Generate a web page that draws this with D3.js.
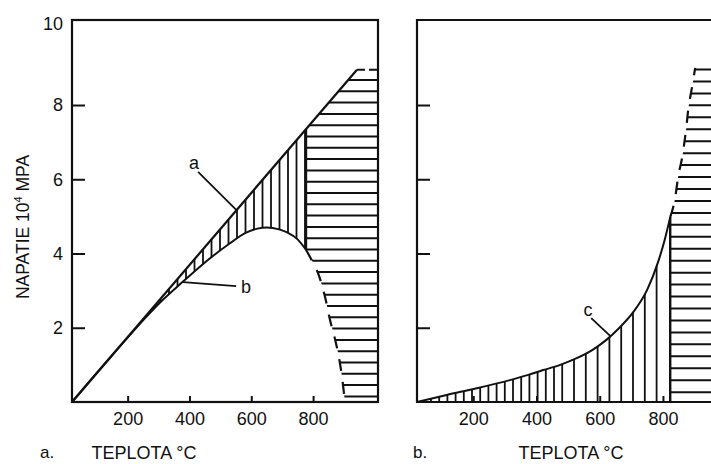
<!DOCTYPE html>
<html>
<head>
<meta charset="utf-8">
<script src="https://cdn.jsdelivr.net/npm/d3@7"></script>
<style>
  body { margin: 0; background: #fff; }
  text { font-family: "Liberation Sans", Arial, sans-serif; fill: #111; }
</style>
</head>
<body>
<svg id="chart" width="711" height="464"></svg>
<script>
// ticks
const tickTemps = [200, 400, 600, 800];
const tickStress = [2, 4, 6, 8, 10];

// panel a: line a (straight) and curve b, temperature in °C, stress in 10^4 MPa
const aTemp = [20, 942];
const aStress = [0, 8.95];
const bTemp = [20, 150, 250, 300, 380, 450, 530, 580, 620, 650, 690, 716, 750, 777, 800, 816, 839, 855, 871, 884, 894, 903];
const bStress = [0, 1.26, 2.2, 2.64, 3.25, 3.76, 4.27, 4.55, 4.67, 4.70, 4.65, 4.57, 4.38, 4.10, 3.75, 3.47, 2.82, 2.20, 1.69, 1.18, 0.65, 0];
const bSplit = 777;   // vertical boundary between the two hatches

// panel b: curve c
const cTemp = [22, 116, 211, 316, 374, 421, 475, 527, 580, 622, 660, 706, 750, 785, 805, 823, 839, 848, 861, 873, 880, 892, 902];
const cStress = [0, 0.19, 0.37, 0.59, 0.73, 0.86, 1.0, 1.18, 1.42, 1.68, 1.98, 2.42, 3.02, 3.78, 4.35, 4.98, 5.52, 6.06, 6.6, 7.33, 7.87, 8.48, 9.0];
const cSplit = 823;

// annotations: label position and leader line (from -> to), data units
const notesA = [
  { text: 'a', t: 415, s: 6.45, t1: 428, s1: 6.2, t2: 553, s2: 5.16 },
  { text: 'b', t: 583, s: 3.10, t1: 551, s1: 3.12, t2: 379, s2: 3.23 }
];
const notesB = [
  { text: 'c', t: 563, s: 2.48, t1: 573, s1: 2.26, t2: 633, s2: 1.78 }
];

const ink = '#111';
const fs = 18;
const svg = d3.select('#chart');
const defs = svg.append('defs');

const y = d3.scaleLinear().domain([0, 10.29]).range([402, 20]);
const xa = d3.scaleLinear().domain([20, 1010]).range([72, 378]);
const xb = d3.scaleLinear().domain([22, 952]).range([417, 711]);

const aOf = d3.scaleLinear().domain(aTemp).range(aStress);
const bPts = bTemp.map((t, i) => [t, bStress[i]]);
const cPts = cTemp.map((t, i) => [t, cStress[i]]);
const bUp = bPts.filter(d => d[0] <= bSplit);
const bLow = bPts.filter(d => d[0] >= bSplit);
const cLow = cPts.filter(d => d[0] <= cSplit);
const cUp = cPts.filter(d => d[0] >= cSplit);

function hatch(id, x0, x1, y0, y1, step, vertical, width) {
  const g = svg.append('g').attr('clip-path', 'url(#' + id + ')')
    .attr('stroke', ink).attr('stroke-width', width);
  if (vertical) {
    d3.range(x0, x1, step).forEach(x => g.append('line').attr('x1', x).attr('x2', x).attr('y1', y0).attr('y2', y1));
  } else {
    d3.range(y0, y1, step).forEach(v => g.append('line').attr('x1', x0).attr('x2', x1).attr('y1', v).attr('y2', v));
  }
  return g;
}

// ---------- panel a ----------
const areaAB = d3.area()
  .x(d => xa(d[0])).y0(d => y(d[1])).y1(d => y(aOf(d[0])))
  .curve(d3.curveMonotoneX);

const clipV1 = defs.append('clipPath').attr('id', 'clipV1');
clipV1.append('path').attr('d', areaAB(bUp));

const clipH1 = defs.append('clipPath').attr('id', 'clipH1');
clipH1.append('path').attr('d', areaAB(bLow));
const tEnd = bTemp[bTemp.length - 1];
clipH1.append('path').attr('d', d3.line()([
  [xa(tEnd), y(0)], [xa(tEnd), y(aOf(tEnd))], [xa(aTemp[1]), y(aStress[1])],
  [xa(1010), y(aStress[1])], [xa(1010), y(0)]
]));

hatch('clipV1', 84, xa(bSplit), 20, 402, 8.5, true, 1.8);
hatch('clipH1', 72, 378, 80, 400, 11.3, false, 2);

const lineA = d3.line().x(d => xa(d[0])).y(d => y(d[1]));
const curveA = d3.line().x(d => xa(d[0])).y(d => y(d[1])).curve(d3.curveMonotoneX);

svg.append('path').attr('d', lineA(aTemp.map((t, i) => [t, aStress[i]])))
  .attr('fill', 'none').attr('stroke', ink).attr('stroke-width', 2.2);
svg.append('path').attr('d', lineA([[aTemp[1], aStress[1]], [1010, aStress[1]]]))
  .attr('fill', 'none').attr('stroke', ink).attr('stroke-width', 2).attr('stroke-dasharray', '8 4');
svg.append('path').attr('d', curveA(bUp))
  .attr('fill', 'none').attr('stroke', ink).attr('stroke-width', 2);
svg.append('path').attr('d', curveA(bLow))
  .attr('fill', 'none').attr('stroke', ink).attr('stroke-width', 2.2).attr('stroke-dasharray', '12 11');
svg.append('line')
  .attr('x1', xa(bSplit)).attr('x2', xa(bSplit))
  .attr('y1', y(aOf(bSplit))).attr('y2', y(bStress[bTemp.indexOf(bSplit)]))
  .attr('stroke', ink).attr('stroke-width', 2.4);

svg.append('rect').attr('x', 72).attr('y', 20).attr('width', 306).attr('height', 382)
  .attr('fill', 'none').attr('stroke', ink).attr('stroke-width', 2.2);

// ---------- panel b ----------
const areaC = d3.area()
  .x(d => xb(d[0])).y0(y(0)).y1(d => y(d[1]))
  .curve(d3.curveMonotoneX);

const clipV2 = defs.append('clipPath').attr('id', 'clipV2');
clipV2.append('path').attr('d', areaC(cLow));
const clipH2 = defs.append('clipPath').attr('id', 'clipH2');
clipH2.append('path').attr('d', areaC(cUp));
const cTop = cStress[cStress.length - 1];
clipH2.append('rect').attr('x', xb(cTemp[cTemp.length - 1]) - 0.5).attr('y', y(cTop))
  .attr('width', 60).attr('height', y(0) - y(cTop));

const gv = svg.append('g').attr('clip-path', 'url(#clipV2)')
  .attr('stroke', ink).attr('stroke-width', 1.8);
const vx = d3.range(431, 565, 8.2).concat(d3.range(574, xb(cSplit) - 6, 11.8));
vx.forEach(x => gv.append('line').attr('x1', x).attr('x2', x).attr('y1', 20).attr('y2', 402));
hatch('clipH2', xb(cSplit), 711, 69.5, 400, 11.95, false, 2);

const curveB = d3.line().x(d => xb(d[0])).y(d => y(d[1])).curve(d3.curveMonotoneX);
svg.append('path').attr('d', curveB(cLow))
  .attr('fill', 'none').attr('stroke', ink).attr('stroke-width', 2);
svg.append('path').attr('d', curveB(cUp))
  .attr('fill', 'none').attr('stroke', ink).attr('stroke-width', 2.2).attr('stroke-dasharray', '12 12');
svg.append('line')
  .attr('x1', xb(cSplit)).attr('x2', xb(cSplit))
  .attr('y1', y(cStress[cTemp.indexOf(cSplit)])).attr('y2', y(0))
  .attr('stroke', ink).attr('stroke-width', 2.4);

svg.append('path')
  .attr('d', `M711,20H417V402H711`)
  .attr('fill', 'none').attr('stroke', ink).attr('stroke-width', 2.2);

// ---------- axes ----------
function styleAxis(g) {
  g.select('.domain').remove();
  g.selectAll('line').attr('stroke', ink).attr('stroke-width', 2);
  g.selectAll('text').attr('font-size', fs).attr('fill', ink)
    .style('font-family', '"Liberation Sans", Arial, sans-serif');
}

const axL = svg.append('g').attr('transform', 'translate(72,0)')
  .call(d3.axisLeft(y).tickValues(tickStress).tickSize(-13).tickPadding(9))
  .call(styleAxis);
axL.selectAll('.tick').filter(d => d === 10).select('line').remove();
axL.selectAll('.tick').filter(d => d === 10).select('text').attr('dy', '-0.05em');

svg.append('g').attr('transform', 'translate(417,0)')
  .call(d3.axisLeft(y).tickValues(tickStress.filter(d => d < 10)).tickSize(-13).tickFormat(''))
  .call(styleAxis);

svg.append('g').attr('transform', 'translate(0,402)')
  .call(d3.axisBottom(xa).tickValues(tickTemps).tickSize(-6).tickPadding(10))
  .call(styleAxis);
svg.append('g').attr('transform', 'translate(0,402)')
  .call(d3.axisBottom(xb).tickValues(tickTemps).tickSize(-6).tickPadding(10))
  .call(styleAxis);

// ---------- annotations ----------
function notes(list, x) {
  list.forEach(n => {
    svg.append('line')
      .attr('x1', x(n.t1)).attr('y1', y(n.s1)).attr('x2', x(n.t2)).attr('y2', y(n.s2))
      .attr('stroke', ink).attr('stroke-width', 1.8);
    svg.append('text').attr('x', x(n.t)).attr('y', y(n.s))
      .attr('text-anchor', 'middle').attr('dominant-baseline', 'central')
      .attr('font-size', fs).text(n.text);
  });
}
notes(notesA, xa);
notes(notesB, xb);

// ---------- titles ----------
svg.append('text').attr('x', 144).attr('y', 459).attr('text-anchor', 'middle')
  .attr('font-size', fs).text('TEPLOTA °C');
svg.append('text').attr('x', 571).attr('y', 459).attr('text-anchor', 'middle')
  .attr('font-size', fs).text('TEPLOTA °C');
svg.append('text').attr('x', 40).attr('y', 458).attr('font-size', fs - 1).text('a.');
svg.append('text').attr('x', 413).attr('y', 458).attr('font-size', fs - 1).text('b.');

const yt = svg.append('text')
  .attr('transform', 'translate(29,227) rotate(-90)')
  .attr('text-anchor', 'middle').attr('font-size', 17.5);
yt.append('tspan').text('NAPATIE 10');
yt.append('tspan').attr('dy', -7).attr('font-size', 11).text('4');
yt.append('tspan').attr('dy', 7).text(' MPA');
</script>
</body>
</html>
